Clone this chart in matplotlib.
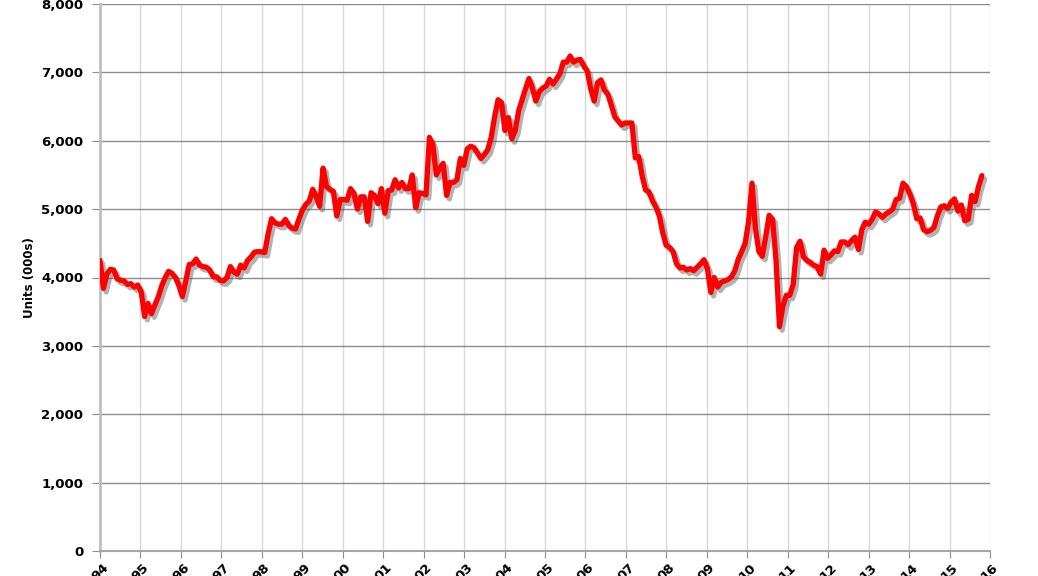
import numpy as np
import matplotlib
matplotlib.use("Agg")
import matplotlib.pyplot as plt
import matplotlib.patheffects as pe

# Existing home sales, monthly, SAAR (000s units), Jan 1994 onward
sales = [
    4250, 3840, 4050, 4120, 4110, 3980, 3960, 3950, 3900, 3910,
    3860, 3890, 3790, 3430, 3620, 3470, 3600, 3720, 3880, 4000,
    4090, 4060, 4000, 3880, 3720, 3950, 4190, 4200, 4270, 4180,
    4160, 4150, 4110, 4010, 4010, 3960, 3950, 4000, 4160, 4080,
    4050, 4180, 4140, 4250, 4300, 4370, 4380, 4375, 4365, 4640,
    4860, 4800, 4780, 4780, 4850, 4760, 4720, 4710, 4860, 4990,
    5070, 5120, 5290, 5180, 5040, 5600, 5330, 5290, 5260, 4900,
    5140, 5140, 5130, 5300, 5230, 5000, 5180, 5180, 4820, 5240,
    5200, 5080, 5300, 4940, 5270, 5280, 5430, 5310, 5390, 5300,
    5300, 5500, 5020, 5240, 5230, 5210, 6050, 5940, 5500, 5600,
    5670, 5200, 5390, 5390, 5430, 5740, 5640, 5880, 5920, 5900,
    5820, 5740, 5800, 5870, 6050, 6350, 6600, 6560, 6150, 6340,
    6030, 6150, 6440, 6600, 6760, 6910, 6770, 6580, 6720, 6770,
    6800, 6900, 6830, 6900, 6980, 7150, 7150, 7240, 7150, 7180,
    7190, 7090, 7020, 6760, 6580, 6850, 6890, 6740, 6680, 6520,
    6350, 6290, 6230, 6260, 6260, 6260, 5750, 5770, 5480, 5280,
    5250, 5120, 5030, 4900, 4650, 4470, 4440, 4380, 4200, 4140,
    4150, 4110, 4130, 4100, 4150, 4200, 4260, 4130, 3780, 4000,
    3860, 3930, 3950, 3970, 4010, 4100, 4270, 4380, 4500, 4820,
    5380, 4720, 4380, 4310, 4600, 4910, 4850, 4250, 3280, 3580,
    3740, 3740, 3900, 4440, 4530, 4300, 4250, 4220, 4180, 4160,
    4050, 4400, 4280, 4330, 4390, 4380, 4520, 4520, 4480, 4540,
    4590, 4410, 4700, 4810, 4780, 4850, 4960, 4930, 4880, 4930,
    4960, 5000, 5140, 5160, 5380, 5330, 5220, 5080, 4860, 4870,
    4700, 4670, 4690, 4730, 4900, 5030, 5050, 5010, 5100, 5150,
    4970, 5060, 4830, 4850, 5200, 5110, 5330, 5490,
]
years = list(range(1994, 2017))
year_labels = [f"{y % 100:02d}" for y in years]
y_ticks = [0, 1000, 2000, 3000, 4000, 5000, 6000, 7000, 8000]
y_label = "Units (000s)"

x = np.linspace(1994.0, 2015.8, len(sales))

fig = plt.figure(figsize=(10.38, 5.76), dpi=100)
ax = fig.add_axes([100 / 1038, 1 - 551 / 576, 890 / 1038, 547 / 576])

ax.plot(x, sales, color="#ff0000", lw=3.8, solid_joinstyle="round",
        solid_capstyle="round", zorder=3,
        path_effects=[pe.SimpleLineShadow(offset=(2, -2.5), shadow_color="#555555", alpha=0.45),
                      pe.Normal()])

ax.set_xlim(1994, 2016)
ax.set_ylim(0, 8000)
ax.set_yticks(y_ticks)
ax.set_yticklabels([f"{v:,}" for v in y_ticks], fontsize=9.5, fontweight="bold")
ax.set_xticks(years)
ax.set_xticklabels(year_labels, rotation=45, fontsize=9.5, fontweight="bold",
                   ha="center", va="top")

ax.grid(axis="y", color="#8c8c8c", lw=1.0, zorder=1)
ax.grid(axis="x", color="#d9d9d9", lw=1.0, zorder=1)
ax.set_axisbelow(True)

for s in ["top", "right"]:
    ax.spines[s].set_visible(False)
ax.spines["left"].set_color("#bfbfbf")
ax.spines["left"].set_linewidth(2)
ax.spines["bottom"].set_color("#a6a6a6")
ax.spines["bottom"].set_linewidth(1.5)
ax.tick_params(axis="y", length=6, color="#8c8c8c", pad=6)
ax.tick_params(axis="x", length=5, color="#8c8c8c", pad=2)

ax.set_ylabel(y_label, fontsize=8.5, fontweight="bold", labelpad=4)

fig.savefig("out.png", dpi=100)
